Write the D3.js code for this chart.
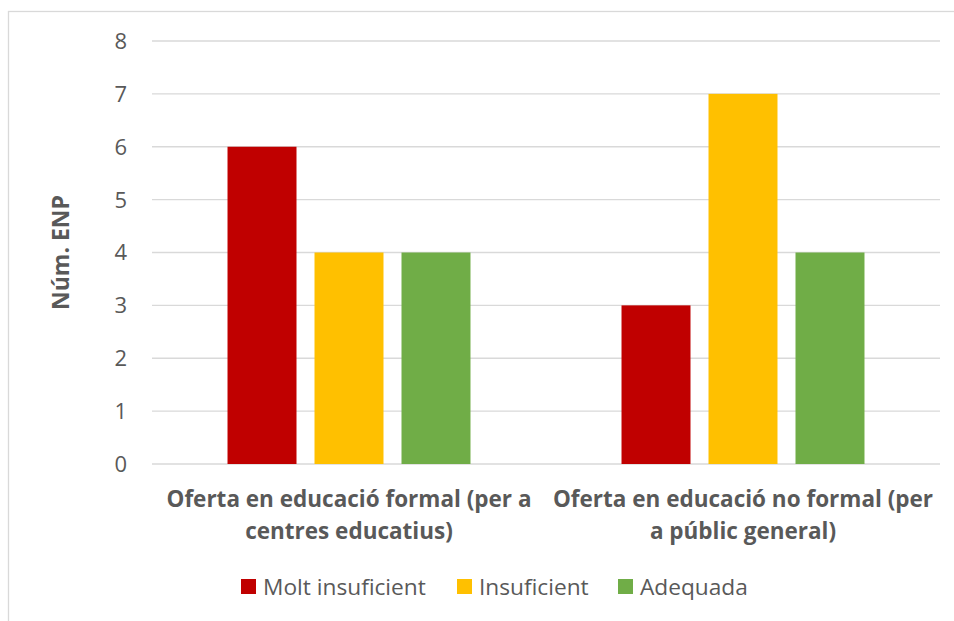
<!DOCTYPE html>
<html lang="ca">
<head>
  <meta charset="UTF-8" />
  <title>Oferta educativa ENP</title>
  <script src="https://d3js.org/d3.v7.min.js"></script>
  <style>
    body { margin: 0; background: #fff; }
    svg text { font-family: "Segoe UI", "Open Sans", sans-serif; fill: #595959; }
  </style>
</head>
<body>
  <svg id="chart" width="954" height="621"></svg>
  <script>
    const categories = [
      "Oferta en educació formal (per a centres educatius)",
      "Oferta en educació no formal (per a públic general)"
    ];
    const categoryLines = [
      ["Oferta en educació formal (per a", "centres educatius)"],
      ["Oferta en educació no formal (per", "a públic general)"]
    ];
    const seriesNames = ["Molt insuficient", "Insuficient", "Adequada"];
    const moltInsuficient = [6, 3];
    const insuficient = [4, 7];
    const adequada = [4, 4];
    const yTicks = [0, 1, 2, 3, 4, 5, 6, 7, 8];
    const yTitle = "Núm. ENP";

    const colors = { "Molt insuficient": "#C00000", "Insuficient": "#FFC000", "Adequada": "#70AD47" };
    const seriesValues = [moltInsuficient, insuficient, adequada];

    const rows = categories.map((c, i) => ({
      cat: c,
      values: seriesNames.map((s, j) => ({ key: s, value: seriesValues[j][i] }))
    }));

    const svg = d3.select("#chart");

    // chart frame (cut by the picture on right and bottom)
    svg.append("rect")
      .attr("x", 8.5).attr("y", 11.5)
      .attr("width", 960).attr("height", 640)
      .attr("fill", "none").attr("stroke", "#d9d9d9").attr("stroke-width", 1.3);

    const plot = { left: 152, right: 940, top: 41, bottom: 464 };

    const y = d3.scaleLinear().domain([0, 8]).range([plot.bottom, plot.top]);
    const x0 = d3.scaleBand().domain(categories).range([plot.left, plot.right]);
    const x1 = d3.scaleBand().domain(seriesNames)
      .range([0, x0.bandwidth()])
      .paddingInner(0.207).paddingOuter(0.868);

    // gridlines
    svg.append("g")
      .selectAll("line")
      .data(yTicks)
      .join("line")
      .attr("x1", plot.left).attr("x2", plot.right)
      .attr("y1", d => y(d)).attr("y2", d => y(d))
      .attr("stroke", "#d9d9d9").attr("stroke-width", 1.4);

    // y tick labels
    svg.append("g")
      .selectAll("text")
      .data(yTicks)
      .join("text")
      .attr("x", 127)
      .attr("y", d => y(d))
      .attr("dy", "0.36em")
      .attr("text-anchor", "end")
      .attr("font-size", 22)
      .text(d => d);

    // bars
    svg.append("g")
      .selectAll("g")
      .data(rows)
      .join("g")
      .attr("transform", d => `translate(${x0(d.cat)},0)`)
      .selectAll("rect")
      .data(d => d.values)
      .join("rect")
      .attr("x", d => x1(d.key))
      .attr("width", x1.bandwidth())
      .attr("y", d => y(d.value))
      .attr("height", d => y(0) - y(d.value))
      .attr("fill", d => colors[d.key]);

    // category labels
    svg.append("g")
      .selectAll("text")
      .data(categories)
      .join("text")
      .attr("x", d => x0(d) + x0.bandwidth() / 2)
      .attr("y", 507)
      .attr("text-anchor", "middle")
      .attr("font-size", 22.5)
      .attr("font-weight", "bold")
      .each(function(d, i) {
        const el = d3.select(this);
        categoryLines[i].forEach((line, k) => {
          el.append("tspan")
            .attr("x", x0(d) + x0.bandwidth() / 2)
            .attr("dy", k === 0 ? 0 : 32)
            .text(line);
        });
      });

    // y title
    svg.append("text")
      .attr("transform", `translate(69,${(plot.top + plot.bottom) / 2}) rotate(-90)`)
      .attr("text-anchor", "middle")
      .attr("font-size", 23)
      .attr("font-weight", "bold")
      .text(yTitle);

    // legend
    const legendX = [241, 457, 618];
    const legend = svg.append("g")
      .selectAll("g")
      .data(seriesNames)
      .join("g")
      .attr("transform", (d, i) => `translate(${legendX[i]},579)`);
    legend.append("rect")
      .attr("width", 15).attr("height", 15)
      .attr("fill", d => colors[d]);
    legend.append("text")
      .attr("x", 22).attr("y", 15.5)
      .attr("font-size", 22.7)
      .text(d => d);
  </script>
</body>
</html>
